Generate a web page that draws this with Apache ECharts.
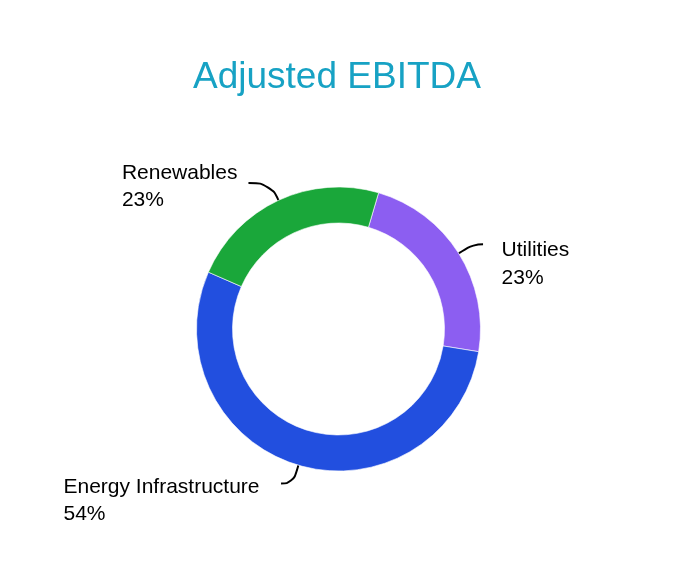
<!DOCTYPE html>
<html>
<head>
<meta charset="utf-8">
<script src="https://cdn.jsdelivr.net/npm/echarts@6/dist/echarts.min.js"></script>
<style>html,body{margin:0;padding:0;background:#fff;}#c{width:682px;height:586px;}</style>
</head>
<body>
<div id="c"></div>
<script>
const categories = ['Utilities', 'Energy Infrastructure', 'Renewables'];
const values = [23, 54, 23];
const colors = ['#8c5ef1', '#224fdf', '#1aa73a'];
const titleText = 'Adjusted EBITDA';

// label layout tweaks (pixels, relative to the label line end)
const lineLen = [17, 19, 19];
const lineLen2 = [10, 12, 22];
const labelGap = [18.5, 21.5, 11];
const labelDy = [-7.5, -10, -24];

const chart = echarts.init(document.getElementById('c'), null, {renderer: 'canvas'});
const font = 'Liberation Sans';

chart.setOption({
  animation: false,
  backgroundColor: '#ffffff',
  textStyle: {fontFamily: font},
  title: {
    text: titleText,
    left: 188,
    top: 54,
    textStyle: {fontFamily: font, fontSize: 37, fontWeight: 'normal', color: '#17a2c4'}
  },
  series: [{
    type: 'pie',
    center: [338.5, 329],
    radius: [106, 142],
    startAngle: 73.6,
    clockwise: true,
    avoidLabelOverlap: false,
    itemStyle: {borderColor: '#ffffff', borderWidth: 0.6},
    label: {
      show: true,
      position: 'outside',
      fontFamily: font,
      fontSize: 21,
      lineHeight: 27.5,
      color: '#000000',
      formatter: '{t|{b}}\n{t|{d}%}',
      rich: {
        t: {align: 'left', fontFamily: font, fontSize: 21, lineHeight: 27.5, color: '#000000'}
      }
    },
    labelLine: {show: true, smooth: 0.5, lineStyle: {color: '#000000', width: 2}},
    labelLayout: function (p) {
      const pts = p.labelLinePoints;
      if (!pts) return {};
      const end = pts[pts.length - 1];
      const prev = pts[pts.length - 2];
      const toLeft = end[0] < prev[0];
      const g = labelGap[p.dataIndex];
      return {
        x: toLeft ? end[0] - g : end[0] + g,
        y: end[1] + labelDy[p.dataIndex],
        align: toLeft ? 'right' : 'left',
        verticalAlign: 'top',
        labelLinePoints: pts
      };
    },
    data: categories.map((c, i) => ({
      name: c,
      value: values[i],
      itemStyle: {color: colors[i]},
      labelLine: {length: lineLen[i], length2: lineLen2[i]}
    }))
  }]
});
</script>
</body>
</html>
